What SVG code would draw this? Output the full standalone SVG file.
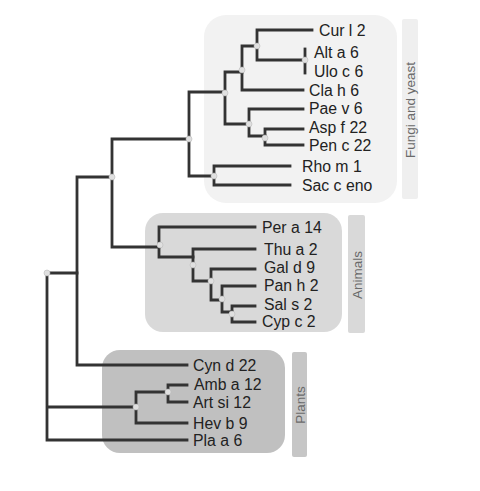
<svg xmlns="http://www.w3.org/2000/svg" width="480" height="491" viewBox="0 0 480 491">
<style>
.br{fill:none;stroke:#333;stroke-width:2.8;stroke-linejoin:miter;stroke-linecap:square}
.nd{fill:#e0e0e0;stroke:#bbb;stroke-width:0.6}
.lb{font-family:"Liberation Sans",Arial,sans-serif;font-size:15.8px;fill:#222;dominant-baseline:central}
.sb{font-family:"Liberation Sans",Arial,sans-serif;font-size:13.5px;fill:#6a6a6a;text-anchor:middle;dominant-baseline:central}
</style>
<rect width="480" height="491" fill="#fff"/>
<g id="fungi-group">
<rect x="204" y="15" width="193" height="188" rx="22" fill="#f2f2f2"/>
<rect x="402" y="19" width="16" height="180" rx="2" fill="#efefef"/>
<text class="sb" transform="translate(410,110) rotate(-90)">Fungi and yeast</text>
</g>
<g id="animals-group">
<rect x="145" y="213" width="197" height="119" rx="18" fill="#d9d9d9"/>
<rect x="348" y="215" width="17" height="118" rx="2" fill="#d9d9d9"/>
<text class="sb" transform="translate(357,275) rotate(-90)">Animals</text>
</g>
<g id="plants-group">
<rect x="102" y="350" width="183" height="103" rx="18" fill="#c0c0c0"/>
<rect x="292" y="352" width="15" height="105" rx="2" fill="#c6c6c6"/>
<text class="sb" transform="translate(300,405) rotate(-90)">Plants</text>
</g>
<g id="connectors">
<path class="br" d="M47,273 V440 H187 M47,273 H77 M47,407 H136"/>
<path class="br" d="M77,177 V365 H187 M77,177 H112"/>
<path class="br" d="M112,139 V247 H159 M112,139 H189"/>
<path class="br" d="M189,92 V176 H214 M189,92 H225"/>
<path class="br" d="M214,166 V185 M214,166 H290 M214,185 H290"/>
<path class="br" d="M225,72 V124 H249 M225,72 H242"/>
<path class="br" d="M242,46 V90 H303 M242,46 H257"/>
<path class="br" d="M257,30 V60 H305 M257,30 H312"/>
<path class="br" d="M305,49 V73"/>
<path class="br" d="M249,109 V136 H265 M249,109 H303"/>
<path class="br" d="M265,129 V145 H303 M265,129 H303"/>
<path class="br" d="M159,227 V257 H193 M159,227 H255"/>
<path class="br" d="M193,249 V281 H211 M193,249 H255"/>
<path class="br" d="M211,269 V300 H222 M211,269 H255"/>
<path class="br" d="M222,286 V312 H232 M222,286 H255"/>
<path class="br" d="M232,306 V322 H255 M232,306 H255"/>
<path class="br" d="M136,392 V423 H187 M136,392 H168"/>
<path class="br" d="M168,385 V402 H187 M168,385 H187"/>
</g>
<g id="nodes">
<circle class="nd" cx="47" cy="273" r="3"/>
<circle class="nd" cx="112" cy="177" r="3"/>
<circle class="nd" cx="189" cy="139" r="3"/>
<circle class="nd" cx="225" cy="93" r="3"/>
<circle class="nd" cx="242" cy="70" r="3"/>
<circle class="nd" cx="257" cy="46" r="3"/>
<circle class="nd" cx="305" cy="60" r="3"/>
<circle class="nd" cx="249" cy="124" r="3"/>
<circle class="nd" cx="265" cy="138" r="3"/>
<circle class="nd" cx="214" cy="176" r="3"/>
<circle class="nd" cx="160" cy="245" r="3"/>
<circle class="nd" cx="193" cy="265" r="3"/>
<circle class="nd" cx="211" cy="281" r="3"/>
<circle class="nd" cx="222" cy="299" r="3"/>
<circle class="nd" cx="232" cy="314" r="3"/>
<circle class="nd" cx="136" cy="407" r="3"/>
<circle class="nd" cx="168" cy="392" r="3"/>
</g>
<g id="labels">
<text class="lb" x="319" y="30">Cur l 2</text>
<text class="lb" x="314" y="52">Alt a 6</text>
<text class="lb" x="314" y="71">Ulo c 6</text>
<text class="lb" x="309" y="90">Cla h 6</text>
<text class="lb" x="309" y="108">Pae v 6</text>
<text class="lb" x="309" y="127">Asp f 22</text>
<text class="lb" x="309" y="145">Pen c 22</text>
<text class="lb" x="302" y="166">Rho m 1</text>
<text class="lb" x="302" y="185">Sac c eno</text>
<text class="lb" x="262" y="227">Per a 14</text>
<text class="lb" x="264" y="249">Thu a 2</text>
<text class="lb" x="264" y="267">Gal d 9</text>
<text class="lb" x="264" y="285">Pan h 2</text>
<text class="lb" x="264" y="304">Sal s 2</text>
<text class="lb" x="262" y="321">Cyp c 2</text>
<text class="lb" x="193" y="365">Cyn d 22</text>
<text class="lb" x="194" y="384">Amb a 12</text>
<text class="lb" x="193" y="402">Art si 12</text>
<text class="lb" x="193" y="423">Hev b 9</text>
<text class="lb" x="193" y="440">Pla a 6</text>
</g>
</svg>
